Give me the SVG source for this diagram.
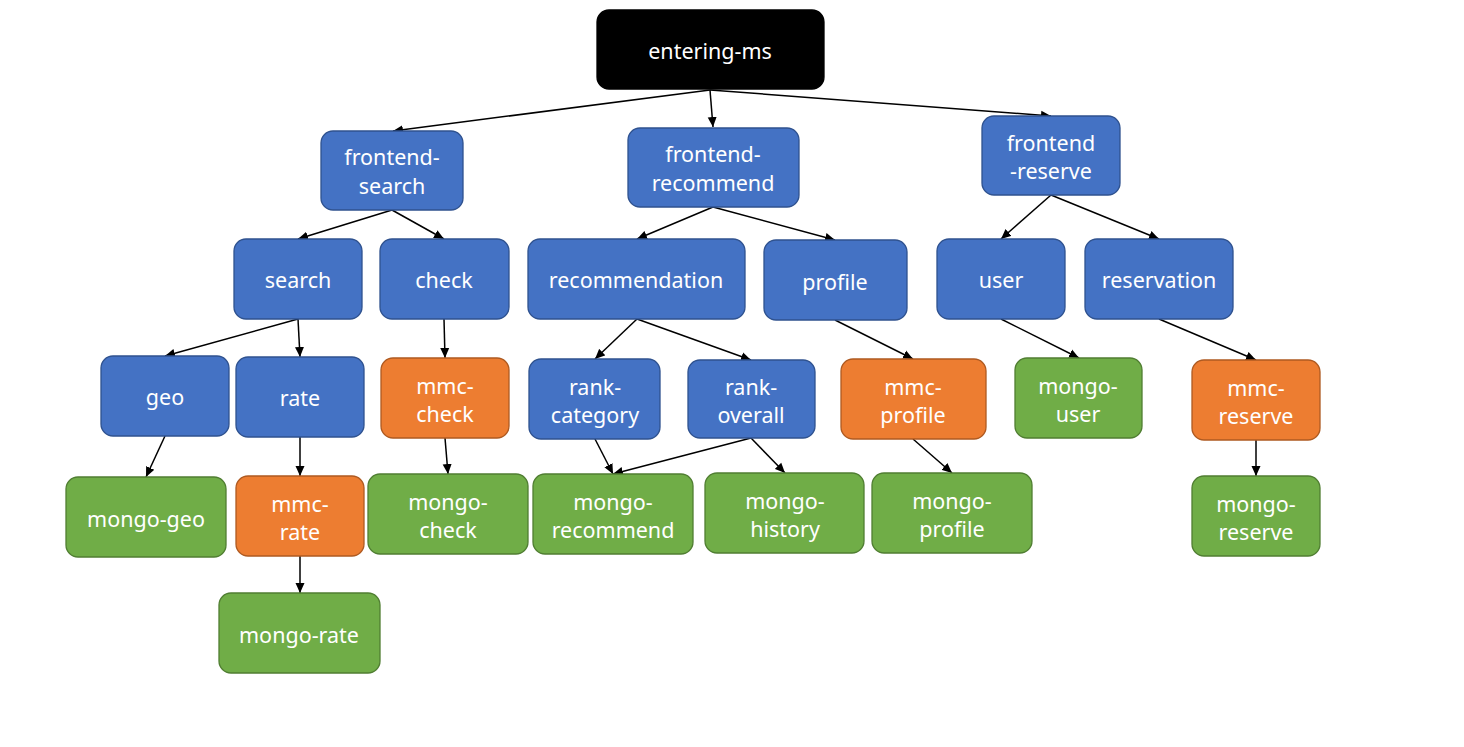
<svg xmlns="http://www.w3.org/2000/svg" width="1464" height="747" viewBox="0 0 1464 747">
<style>
.b{fill:#4472C4;stroke:#2F528F;stroke-width:1.3}
.o{fill:#ED7D31;stroke:#AE5A21;stroke-width:1.3}
.g{fill:#70AD47;stroke:#507E32;stroke-width:1.3}
.k{fill:#000;stroke:#000;stroke-width:1.3}
text{font-family:"Noto Sans","Open Sans",sans-serif;font-size:21.5px;fill:#fff;text-anchor:middle}
.c line{stroke:#000;stroke-width:1.5;marker-end:url(#ah)}
</style>
<defs>
<marker id="ah" viewBox="0 0 10 10" refX="10" refY="5" markerWidth="10" markerHeight="10" markerUnits="userSpaceOnUse" orient="auto">
<path d="M0,0.5 L10,5 L0,9.5 Z" fill="#000"/>
</marker>
</defs>
<rect width="1464" height="747" fill="#fff"/>
<g class="c" id="connectors">
<line x1="710" y1="90" x2="393" y2="131"/>
<line x1="710" y1="90" x2="713" y2="127"/>
<line x1="710" y1="90" x2="1051" y2="116"/>
<line x1="392" y1="210" x2="298" y2="239"/>
<line x1="392" y1="210" x2="444" y2="239"/>
<line x1="713" y1="207" x2="637" y2="239"/>
<line x1="713" y1="207" x2="835" y2="240"/>
<line x1="1051" y1="195" x2="1001" y2="239"/>
<line x1="1051" y1="195" x2="1159" y2="239"/>
<line x1="298" y1="319" x2="165" y2="356"/>
<line x1="298" y1="319" x2="300" y2="357"/>
<line x1="444" y1="319" x2="445" y2="358"/>
<line x1="637" y1="319" x2="595" y2="359"/>
<line x1="637" y1="319" x2="751" y2="360"/>
<line x1="835" y1="320" x2="913" y2="359"/>
<line x1="1001" y1="319" x2="1079" y2="358"/>
<line x1="1159" y1="319" x2="1256" y2="360"/>
<line x1="165" y1="436" x2="146" y2="477"/>
<line x1="300" y1="437" x2="300" y2="476"/>
<line x1="445" y1="438" x2="448" y2="474"/>
<line x1="595" y1="439" x2="613" y2="474"/>
<line x1="751" y1="438" x2="613" y2="474"/>
<line x1="751" y1="438" x2="785" y2="473"/>
<line x1="913" y1="439" x2="952" y2="473"/>
<line x1="1256" y1="440" x2="1256" y2="476"/>
<line x1="300" y1="556" x2="300" y2="593"/>
</g>
<g id="entering-ms"><rect class="k" x="597" y="10" width="227" height="79" rx="12"/><text x="710" y="59">entering-ms</text></g>
<g id="frontend-search"><rect class="b" x="321" y="131" width="142" height="79" rx="12"/><text x="392" y="165">frontend-</text><text x="392" y="194">search</text></g>
<g id="frontend-recommend"><rect class="b" x="628" y="128" width="171" height="79" rx="12"/><text x="713" y="162">frontend-</text><text x="713" y="191">recommend</text></g>
<g id="frontend-reserve"><rect class="b" x="982" y="116" width="138" height="79" rx="12"/><text x="1051" y="151">frontend</text><text x="1051" y="179">-reserve</text></g>
<g id="search"><rect class="b" x="234" y="239" width="128" height="80" rx="12"/><text x="298" y="288">search</text></g>
<g id="check"><rect class="b" x="380" y="239" width="129" height="80" rx="12"/><text x="444" y="288">check</text></g>
<g id="recommendation"><rect class="b" x="528" y="239" width="217" height="80" rx="12"/><text x="636" y="288">recommendation</text></g>
<g id="profile"><rect class="b" x="764" y="240" width="143" height="80" rx="12"/><text x="835" y="290">profile</text></g>
<g id="user"><rect class="b" x="937" y="239" width="128" height="80" rx="12"/><text x="1001" y="288">user</text></g>
<g id="reservation"><rect class="b" x="1085" y="239" width="148" height="80" rx="12"/><text x="1159" y="288">reservation</text></g>
<g id="geo"><rect class="b" x="101" y="356" width="128" height="80" rx="12"/><text x="165" y="405">geo</text></g>
<g id="rate"><rect class="b" x="236" y="357" width="128" height="80" rx="12"/><text x="300" y="406">rate</text></g>
<g id="mmc-check"><rect class="o" x="381" y="358" width="128" height="80" rx="12"/><text x="445" y="394">mmc-</text><text x="445" y="422">check</text></g>
<g id="rank-category"><rect class="b" x="529" y="359" width="131" height="80" rx="12"/><text x="595" y="395">rank-</text><text x="595" y="423">category</text></g>
<g id="rank-overall"><rect class="b" x="688" y="360" width="127" height="78" rx="12"/><text x="751" y="395">rank-</text><text x="751" y="423">overall</text></g>
<g id="mmc-profile"><rect class="o" x="841" y="359" width="145" height="80" rx="12"/><text x="913" y="395">mmc-</text><text x="913" y="423">profile</text></g>
<g id="mongo-user"><rect class="g" x="1015" y="358" width="127" height="80" rx="12"/><text x="1078" y="394">mongo-</text><text x="1078" y="422">user</text></g>
<g id="mmc-reserve"><rect class="o" x="1192" y="360" width="128" height="80" rx="12"/><text x="1256" y="396">mmc-</text><text x="1256" y="424">reserve</text></g>
<g id="mongo-geo"><rect class="g" x="66" y="477" width="160" height="80" rx="12"/><text x="146" y="527">mongo-geo</text></g>
<g id="mmc-rate"><rect class="o" x="236" y="476" width="128" height="80" rx="12"/><text x="300" y="512">mmc-</text><text x="300" y="540">rate</text></g>
<g id="mongo-check"><rect class="g" x="368" y="474" width="160" height="80" rx="12"/><text x="448" y="510">mongo-</text><text x="448" y="538">check</text></g>
<g id="mongo-recommend"><rect class="g" x="533" y="474" width="160" height="80" rx="12"/><text x="613" y="510">mongo-</text><text x="613" y="538">recommend</text></g>
<g id="mongo-history"><rect class="g" x="705" y="473" width="159" height="80" rx="12"/><text x="785" y="509">mongo-</text><text x="785" y="537">history</text></g>
<g id="mongo-profile"><rect class="g" x="872" y="473" width="160" height="80" rx="12"/><text x="952" y="509">mongo-</text><text x="952" y="537">profile</text></g>
<g id="mongo-reserve"><rect class="g" x="1192" y="476" width="128" height="80" rx="12"/><text x="1256" y="512">mongo-</text><text x="1256" y="540">reserve</text></g>
<g id="mongo-rate"><rect class="g" x="219" y="593" width="161" height="80" rx="12"/><text x="299" y="643">mongo-rate</text></g>
</svg>
